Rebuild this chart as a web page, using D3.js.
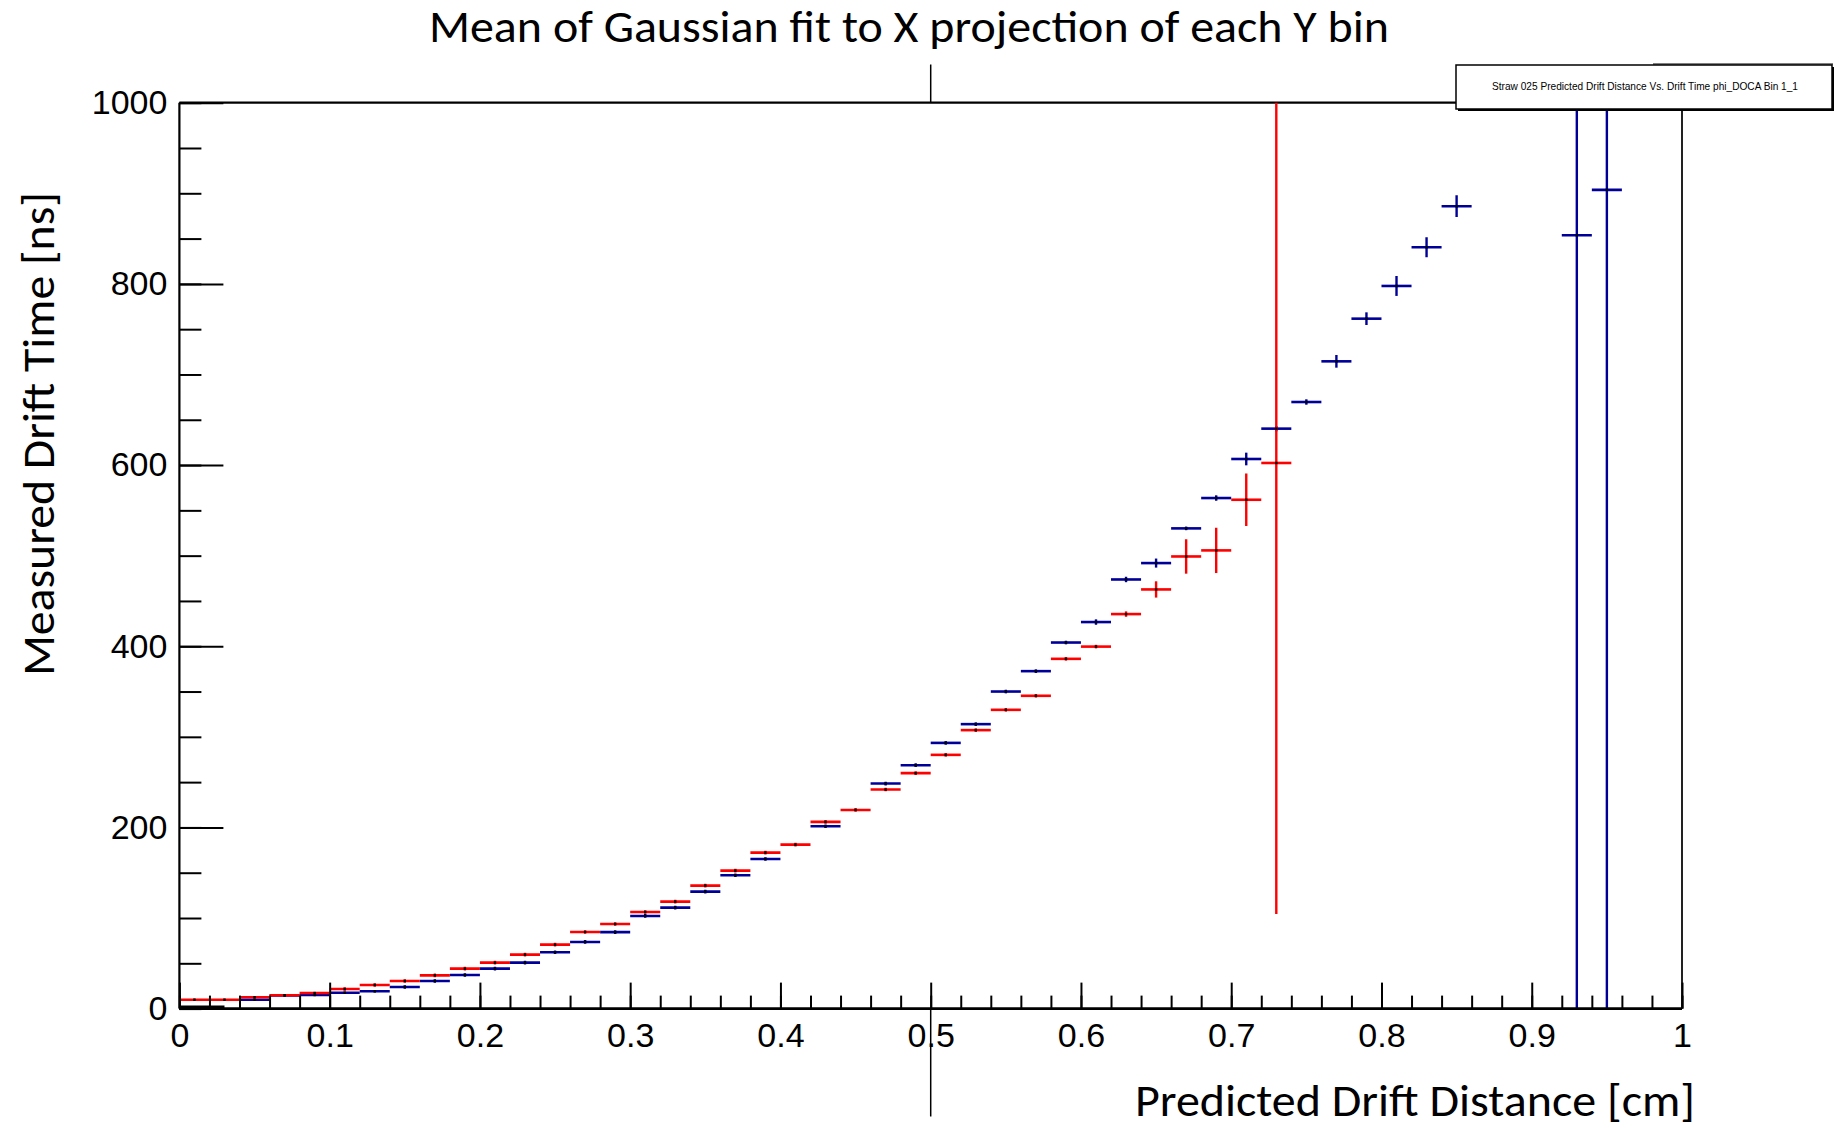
<!DOCTYPE html>
<html><head><meta charset="utf-8">
<script src="https://cdn.jsdelivr.net/npm/d3@7"></script>
<style>body{margin:0;background:#fff;} svg{display:block}</style>
</head><body>
<svg id="c" width="1839" height="1128"></svg>
<script>
// ---------- data ----------
const chartTitle = "Mean of Gaussian fit to X projection of each Y bin";
const legendText = "Straw 025 Predicted Drift Distance Vs. Drift Time phi_DOCA Bin 1_1";
const xTitle = "Predicted Drift Distance [cm]";
const yTitle = "Measured Drift Time [ns]";
const xTickValues = [0, 0.1, 0.2, 0.3, 0.4, 0.5, 0.6, 0.7, 0.8, 0.9, 1];
const xTickLabels = ["0", "0.1", "0.2", "0.3", "0.4", "0.5", "0.6", "0.7", "0.8", "0.9", "1"];
const yTickValues = [0, 200, 400, 600, 800, 1000];
const yTickLabels = ["0", "200", "400", "600", "800", "1000"];
const binHalfWidth = 0.01;

const redX = [0.01,0.03,0.05,0.07,0.09,0.11,0.13,0.15,0.17,0.19,0.21,0.23,0.25,0.27,0.29,0.31,0.33,0.35,0.37,0.39,
              0.41,0.43,0.45,0.47,0.49,0.51,0.53,0.55,0.57,0.59,0.61,0.63,0.65,0.67,0.69,0.71,0.73];
const redY = [9.8,9.8,12.6,14.8,17.2,21.6,26.1,30.5,36.7,44.1,50.7,59.6,70.6,84.6,93.4,106.7,118.1,135.8,152.3,172.2,
              181.0,206.1,219.3,241.8,259.9,280.1,307.4,329.8,345.3,386.1,399.6,435.5,462.7,499.1,505.8,561.7,602.3];
const redErr = [1,1,1,1,1,2,2,2,2,2,2,2,2,2,2,2,2,2,2,2,
                2,2,2,2,2,2,2,2,2,2,2,3,9,19,25,29,498];

const blueX = [0.05,0.07,0.09,0.11,0.13,0.15,0.17,0.19,0.21,0.23,0.25,0.27,0.29,0.31,0.33,0.35,0.37,0.39,
               0.43,0.47,0.49,0.51,0.53,0.55,0.57,0.59,0.61,0.63,0.65,0.67,0.69,0.71,0.73,0.75,0.77,0.79,
               0.81,0.83,0.85,0.93,0.95];
const blueY = [9.8,14.5,15.0,17.5,19.1,23.9,30.5,37.1,44.1,50.7,62.2,73.6,84.4,102.3,111.5,129.1,147.2,165.2,
               201.3,248.4,268.7,293.3,314.0,350.0,372.5,404.1,426.7,473.7,491.8,530.1,563.6,606.7,640.2,669.6,714.5,761.6,
               797.7,840.4,885.7,853.7,903.8];
const blueErr = [1,1,1,1,1,2,2,2,2,2,2,2,2,2,2,2,2,2,
                 2,2,2,2,2,2,2,2,3,3,5,2,3,7,3,3,7,7,
                 11,11,12,1200,1200];

const zeroSegX = [0, 0.03];
const zeroSegY = 0;

// ---------- layout ----------
const W = 1839, H = 1128;
const L = 179.4, R = 1682, T = 102.7, B = 1008.6;
const svg = d3.select("#c");
const x = d3.scaleLinear().domain([0, 1]).range([L, R]);
const y = d3.scaleLinear().domain([0, 1000]).range([B, T]);
const titleFont = "Carlito, Lato, 'Open Sans', sans-serif";
const tickFont = "'Liberation Sans', Arial, Helvetica, sans-serif";

// background
svg.append("rect").attr("width", W).attr("height", H).attr("fill", "#fff");

// stray vertical line behind the pad (at x = 0.5)
svg.append("line").attr("x1", x(0.5)).attr("x2", x(0.5)).attr("y1", 64.5).attr("y2", T)
  .attr("stroke", "#000").attr("stroke-width", 1.5);
svg.append("line").attr("x1", x(0.5)).attr("x2", x(0.5)).attr("y1", B).attr("y2", 1116.5)
  .attr("stroke", "#000").attr("stroke-width", 1.5);

// clip
svg.append("defs").append("clipPath").attr("id", "pc")
  .append("rect").attr("x", L).attr("y", T).attr("width", R - L).attr("height", B - T);

// frame (top & right)
svg.append("line").attr("x1", L).attr("x2", R).attr("y1", T).attr("y2", T).attr("stroke", "#000").attr("stroke-width", 2.2);
svg.append("line").attr("x1", R).attr("x2", R).attr("y1", T).attr("y2", B).attr("stroke", "#222").attr("stroke-width", 2);

const plot = svg.append("g").attr("clip-path", "url(#pc)");

function drawSeries(xs, ys, errs, color) {
  const data = xs.map((v, i) => ({x: v, y: ys[i], e: errs[i]}));
  const g = plot.append("g");
  g.selectAll("line.h").data(data).join("line")
    .attr("x1", d => x(d.x - binHalfWidth)).attr("x2", d => x(d.x + binHalfWidth))
    .attr("y1", d => y(d.y)).attr("y2", d => y(d.y))
    .attr("stroke", color).attr("stroke-width", 2.6);
  g.selectAll("line.v").data(data).join("line")
    .attr("x1", d => x(d.x)).attr("x2", d => x(d.x))
    .attr("y1", d => y(d.y - d.e)).attr("y2", d => y(d.y + d.e))
    .attr("stroke", color).attr("stroke-width", 2.4);
  return data;
}
const blueData = drawSeries(blueX, blueY, blueErr, "#000099");
const redData = drawSeries(redX, redY, redErr, "#ff0000");

// markers
plot.append("g").selectAll("rect").data(blueData.concat(redData)).join("rect")
  .attr("x", d => x(d.x) - 1.2).attr("y", d => y(d.y) - 1.2)
  .attr("width", 2.4).attr("height", 2.4).attr("fill", "#000");

// black zero-level segment
svg.append("line").attr("x1", x(zeroSegX[0])).attr("x2", x(zeroSegX[1]))
  .attr("y1", y(zeroSegY) - 1.5).attr("y2", y(zeroSegY) - 1.5)
  .attr("stroke", "#000").attr("stroke-width", 3);

// x axis
const xAxisMinor = d3.axisBottom(x).tickValues(d3.range(0, 51).map(i => i / 50)).tickSize(-13).tickFormat("");
svg.append("g").attr("transform", `translate(0,${B})`).call(xAxisMinor)
  .call(g => g.select(".domain").remove())
  .call(g => g.selectAll("line").attr("stroke", "#000").attr("stroke-width", 2));
const xAxis = d3.axisBottom(x).tickValues(xTickValues).tickSize(-26).tickPadding(14)
  .tickFormat((d, i) => xTickLabels[i]);
const xg = svg.append("g").attr("transform", `translate(0,${B})`).call(xAxis);
xg.select(".domain").attr("stroke", "#000").attr("stroke-width", 2.6).attr("d", `M${L},0H${R}`);
xg.selectAll("line").attr("stroke", "#000").attr("stroke-width", 2);
xg.selectAll("text").attr("font-family", tickFont).attr("font-size", 34).attr("fill", "#000");

// y axis
const yAxisMinor = d3.axisLeft(y).tickValues(d3.range(0, 21).map(i => i * 50)).tickSize(-22).tickFormat("");
svg.append("g").attr("transform", `translate(${L},0)`).call(yAxisMinor)
  .call(g => g.select(".domain").remove())
  .call(g => g.selectAll("line").attr("stroke", "#000").attr("stroke-width", 2));
const yAxis = d3.axisLeft(y).tickValues(yTickValues).tickSize(-44).tickPadding(12)
  .tickFormat((d, i) => yTickLabels[i]);
const yg = svg.append("g").attr("transform", `translate(${L},0)`).call(yAxis);
yg.select(".domain").attr("stroke", "#000").attr("stroke-width", 2.2).attr("d", `M0,${B}V${T}`);
yg.selectAll("line").attr("stroke", "#000").attr("stroke-width", 2);
yg.selectAll("text").attr("font-family", tickFont).attr("font-size", 34).attr("fill", "#000");

// titles
svg.append("text").attr("x", 909).attr("y", 42).attr("text-anchor", "middle")
  .attr("font-family", titleFont).attr("font-size", 45).attr("fill", "#000")
  .attr("textLength", 960).attr("lengthAdjust", "spacingAndGlyphs").text(chartTitle);
svg.append("text").attr("x", 1135).attr("y", 1116).attr("text-anchor", "start")
  .attr("font-family", titleFont).attr("font-size", 45).attr("fill", "#000")
  .attr("textLength", 560).attr("lengthAdjust", "spacingAndGlyphs").text(xTitle);
svg.append("text").attr("transform", "translate(54,434) rotate(-90)").attr("text-anchor", "middle")
  .attr("font-family", titleFont).attr("font-size", 45).attr("fill", "#000")
  .attr("textLength", 484).attr("lengthAdjust", "spacingAndGlyphs").text(yTitle);

// legend box
svg.append("line").attr("x1", 1653).attr("x2", 1833).attr("y1", 64).attr("y2", 64).attr("stroke", "#000").attr("stroke-width", 1);
svg.append("rect").attr("x", 1458).attr("y", 67).attr("width", 376).attr("height", 44).attr("fill", "#000");
svg.append("rect").attr("x", 1456).attr("y", 65).attr("width", 376).attr("height", 44)
  .attr("fill", "#fff").attr("stroke", "#000").attr("stroke-width", 1.5);
svg.append("text").attr("x", 1645).attr("y", 90).attr("text-anchor", "middle")
  .attr("font-family", tickFont).attr("font-size", 10.5).attr("fill", "#000")
  .attr("textLength", 306).attr("lengthAdjust", "spacingAndGlyphs").text(legendText);
</script>
</body></html>
